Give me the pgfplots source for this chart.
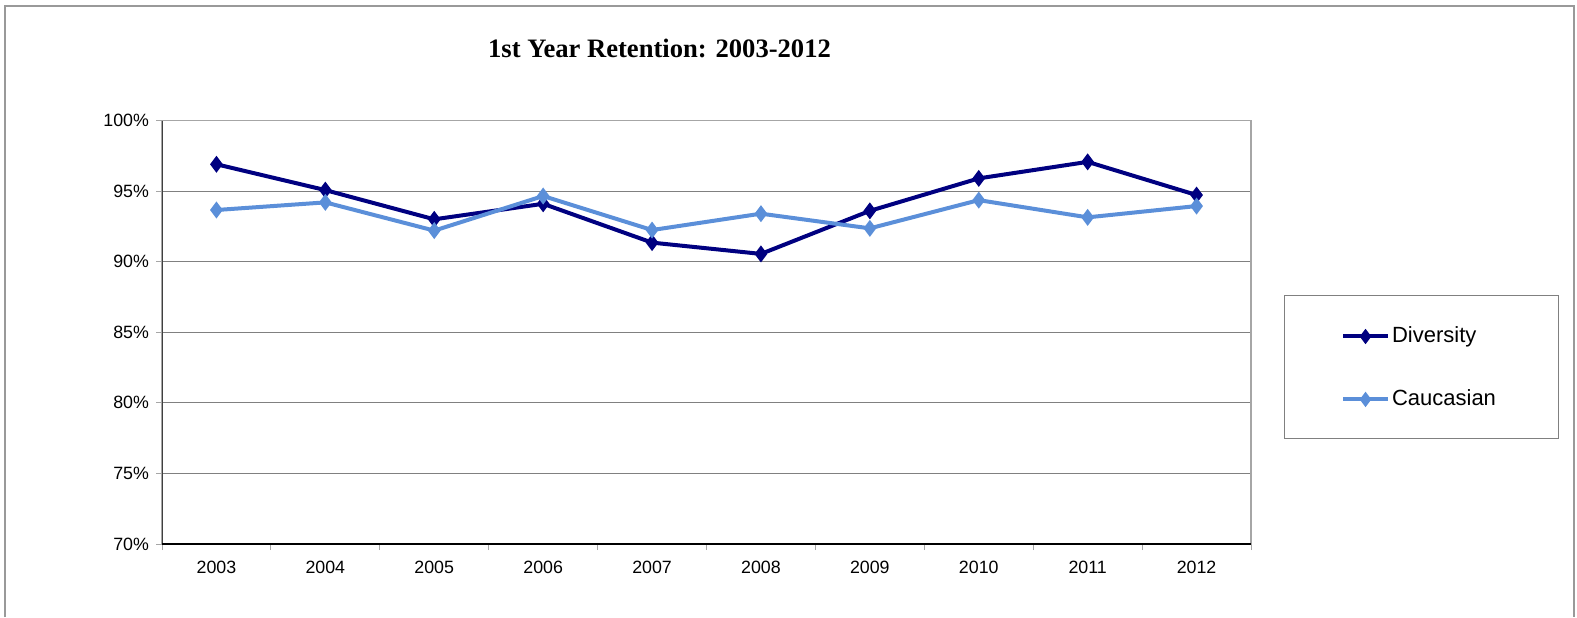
\documentclass[border=0pt]{standalone}
\usepackage{pgfplots}
\pgfplotsset{compat=1.18}
\usepackage{fontspec}
\setmainfont{Liberation Sans}
\newfontfamily\titlefont{Liberation Serif}
\definecolor{divc}{HTML}{000080}
\definecolor{cauc}{HTML}{5B8FD9}
\begin{document}
\begin{tikzpicture}[x=0.5pt,y=0.5pt]
\path (0,0) rectangle (1577,617);
\draw[gray!80, line width=0.6pt] (5,0) -- (5,611) -- (1574,611) -- (1574,0);
\node[font=\titlefont\bfseries\fontsize{13.3}{15}\selectfont] at (659.5,569) {1st Year Retention: 2003-2012};
\draw[gray, line width=0.5pt] (1284,322) rectangle (1558,179);
\begin{axis}[at={(81pt,36.5pt)}, anchor=south west, scale only axis,
  width=544.5pt, height=211.75pt,
  xmin=-0.5, xmax=9.5, ymin=70, ymax=100,
  xtick={0,...,9}, xticklabels={2003,2004,2005,2006,2007,2008,2009,2010,2011,2012},
  major x tick style={draw=none},
  minor xtick={-0.5,0.5,...,9.5},
  ytick={70,75,...,100}, yticklabels={70\%,75\%,80\%,85\%,90\%,95\%,100\%},
  ymajorgrids, major grid style={gray, line width=0.5pt},
  tick align=outside, tick pos=left, major tick length=3pt, minor tick length=3pt,
  axis line style={gray!70, line width=0.6pt},
  tick style={gray!70, line width=0.5pt},
  ticklabel style={font=\fontsize{8.9}{10}\selectfont},
  xticklabel style={yshift=-2pt},
  legend style={draw=none, fill=none, at={(1.0823,0.4157)}, anchor=west,
    inner sep=0pt, row sep=22pt, font=\fontsize{11}{12}\selectfont,
    nodes={inner sep=0pt}},
  legend cell align=left,
  /tikz/every odd column/.append style={column sep=1pt},
  legend image code/.code={\draw[mark repeat=2,mark phase=2,#1,mark size=2.2pt] plot coordinates {(0pt,0pt)(11.25pt,0pt)(22.5pt,0pt)};},
]
\addplot[divc, line width=2pt, mark=diamond*, mark size=2.6pt, mark options={solid}] coordinates {
(0,96.9) (1,95.07) (2,93.0) (3,94.1) (4,91.35) (5,90.55) (6,93.6) (7,95.9) (8,97.07) (9,94.72)};
\addlegendentry{Diversity}
\addplot[cauc, line width=2pt, mark=diamond*, mark size=2.6pt, mark options={solid}] coordinates {
(0,93.66) (1,94.2) (2,92.2) (3,94.65) (4,92.24) (5,93.4) (6,92.36) (7,94.36) (8,93.14) (9,93.94)};
\addlegendentry{Caucasian}
\draw[black!75, line width=1pt] (rel axis cs:0,1) -- (rel axis cs:0,0);
\draw[black, line width=1pt] (rel axis cs:0,0) -- (rel axis cs:1,0);
\end{axis}
\end{tikzpicture}
\end{document}
